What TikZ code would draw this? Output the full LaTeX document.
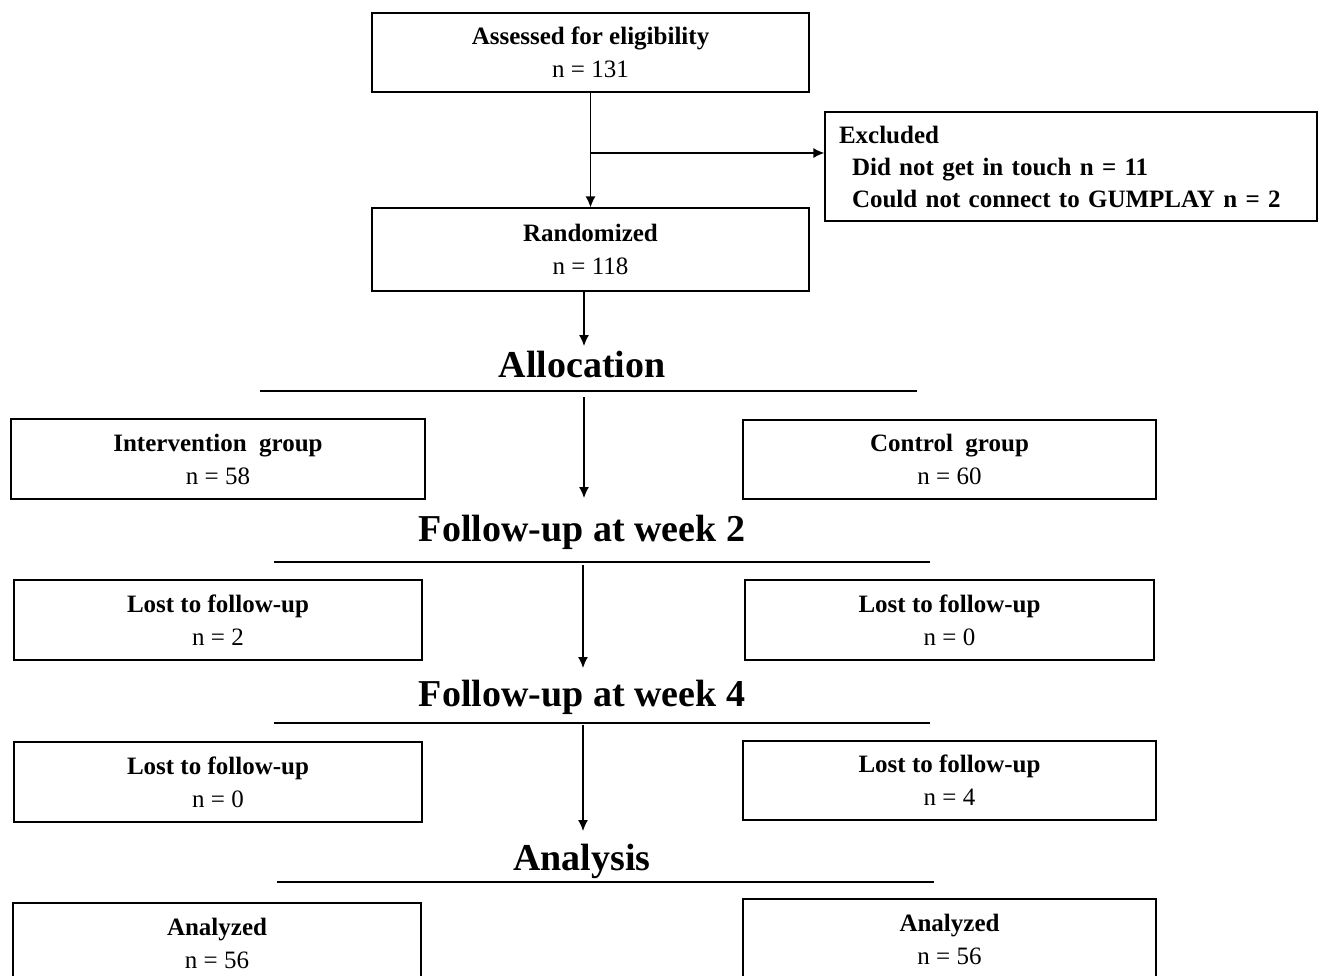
\documentclass[tikz,border=0pt]{standalone}
\usepackage{fontspec}
\setmainfont{Liberation Serif}
\usetikzlibrary{arrows.meta}

\begin{document}
\begin{tikzpicture}[x=1pt,y=-1pt,
 flow/.style={draw,line width=1.3pt,align=center,inner sep=0pt,font=\fontsize{25}{33}\selectfont},
 hd/.style={anchor=base,font=\fontsize{38}{40}\selectfont\bfseries},
 bar/.style={line width=2.8pt},
 arr/.style={-{Latex[length=11pt,width=10pt]},line width=1.3pt}]
\useasboundingbox(0,0)rectangle(1321,975);
% screening
\node[flow,minimum width=437pt,minimum height=79pt](assess)at(590.5,52.5){\textbf{Assessed for eligibility}\\n = 131};
\node[flow,minimum height=109pt,text width=464pt,inner xsep=14pt,align=left,font=\fontsize{25}{32}\selectfont\bfseries](excl)at(1071,166.5){Excluded\\\hspace*{13pt}Did not get in touch n = 11\\\hspace*{13pt}Could not connect to GUMPLAY n = 2};
\node[flow,minimum width=437pt,minimum height=83pt](rand)at(590.5,249.5){\textbf{Randomized}\\n = 118};
\draw[arr](assess)--(rand);
\coordinate(split)at(590.5,153);
\draw[arr](split)--(split-|excl.west);
% allocation
\node[hd](alloc)at(582,377){Allocation};
\coordinate(alloctop)at(584,346);
\draw[arr](rand.south-|alloctop)--(alloctop);
\draw[bar](260,391)--(917,391);
\node[flow,minimum width=414pt,minimum height=80pt](intv)at(218,459){\textbf{Intervention\ \ group}\\n = 58};
\node[flow,minimum width=413pt,minimum height=79pt](ctrl)at(949.5,459.5){\textbf{Control\ \ group}\\n = 60};
\coordinate(a1)at(584,397);\coordinate(a2)at(584,498);
\draw[arr](a1)--(a2);
% week 2
\node[hd](wk2)at(582,541){Follow-up at week 2};
\draw[bar](274,562)--(930,562);
\node[flow,minimum width=408pt,minimum height=80pt](lostAL)at(218,620){\textbf{Lost to follow-up}\\n = 2};
\node[flow,minimum width=409pt,minimum height=80pt](lostAR)at(949.5,620){\textbf{Lost to follow-up}\\n = 0};
\coordinate(b1)at(583,565);\coordinate(b2)at(583,668);
\draw[arr](b1)--(b2);
% week 4
\node[hd](wk4)at(582,706){Follow-up at week 4};
\draw[bar](274,723)--(930,723);
\node[flow,minimum width=408pt,minimum height=80pt](lostBL)at(218,782){\textbf{Lost to follow-up}\\n = 0};
\node[flow,minimum width=413pt,minimum height=79pt](lostBR)at(949.5,780.5){\textbf{Lost to follow-up}\\n = 4};
\coordinate(c1)at(583,725);\coordinate(c2)at(583,831);
\draw[arr](c1)--(c2);
% analysis
\node[hd](anal)at(582,870){Analysis};
\draw[bar](277,882)--(934,882);
\node[flow,line width=2.4pt,minimum width=408pt,minimum height=80pt](anaL)at(217,943){\textbf{Analyzed}\\n = 56};
\node[flow,line width=2.4pt,minimum width=413pt,minimum height=80pt](anaR)at(949.5,939){\textbf{Analyzed}\\n = 56};
\end{tikzpicture}
\end{document}
